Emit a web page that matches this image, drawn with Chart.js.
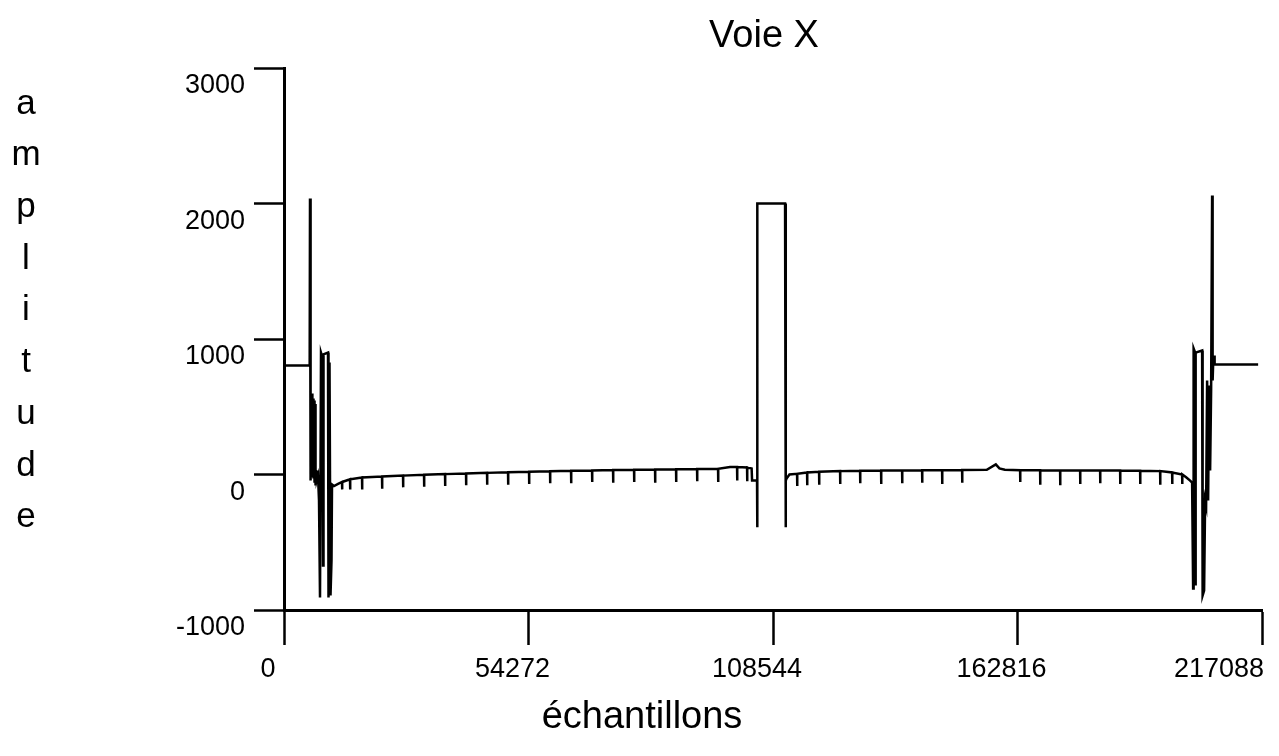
<!DOCTYPE html>
<html>
<head>
<meta charset="utf-8">
<title>Voie X</title>
<script src="https://cdn.jsdelivr.net/npm/chart.js@4"></script>
<style>
  html, body { margin: 0; padding: 0; background: #fff; }
  #voie { display: block; }
</style>
</head>
<body>
<canvas id="voie" width="1279" height="756"></canvas>
<script>
// graduations des axes
const graduationsX = [0, 54272, 108544, 162816, 217088];
const graduationsY = [-1000, 0, 1000, 2000, 3000];

// [échantillon, amplitude] — salve du début
const salveGauche = [
  [0, 805], [5700, 805], [5772, 2037], [5900, -44], [6216, 598], [6300, -20],
  [6438, 560], [6550, -30], [6660, 546], [6780, -60], [6882, 520], [7000, -81],
  [7104, 30], [7300, -40], [7548, -10], [7770, -192], [7992, -908],
  [8214, 900], [8547, 863], [8658, -672], [8769, 886], [9768, 900], [9879, -908],
  [10101, 827], [10323, -893], [10545, -635], [10656, -74]
];

// palier gauche avec ses petites impulsions vers le bas
const ligneGauche = [
  [11100, -85], [12000, -70],
  [12876, -55], [12876, -110], [12960, -55],
  [14652, -35], [14652, -110], [14740, -35],
  [17316, -22], [17316, -110], [17400, -22],
  [21756, -15], [21756, -105], [21840, -15],
  [26418, -8], [26418, -95], [26500, -8],
  [31080, -2], [31080, -90], [31160, -2],
  [35742, 3], [35742, -85], [35820, 3],
  [40404, 8], [40404, -80], [40480, 8],
  [45066, 12], [45066, -75], [45150, 12],
  [49728, 16], [49728, -75], [49810, 16],
  [54390, 20], [54390, -70], [54470, 20],
  [59052, 24], [59052, -65], [59130, 24],
  [63714, 27], [63714, -65], [63800, 27],
  [68376, 30], [68376, -55], [68460, 30],
  [73038, 33], [73038, -60], [73120, 33],
  [77700, 35], [77700, -55], [77780, 35],
  [82362, 37], [82362, -60], [82440, 37],
  [87024, 38], [87024, -55], [87100, 38],
  [91686, 40], [91686, -50], [91770, 40],
  [96348, 42], [96348, -55], [96430, 42],
  [99000, 55], [100566, 55], [100566, -45], [100650, 55],
  [102786, 52], [102786, -50], [102870, 52],
  [103800, 45], [103900, -45], [105000, -45]
];

// créneau central
const creneau = [
  [105006, -390], [105117, 2000], [111222, 2000], [111333, -390],
  [111420, -45], [111555, -30]
];

// palier droit
const ligneDroite = [
  [112200, 0],
  [113886, 5], [113886, -85], [113970, 5],
  [116106, 15], [116106, -80], [116190, 15],
  [118770, 20], [118770, -75], [118850, 20],
  [123432, 25], [123432, -70], [123510, 25],
  [127872, 28], [127872, -65], [127950, 28],
  [132534, 30], [132534, -70], [132610, 30],
  [137196, 30], [137196, -65], [137280, 30],
  [141636, 32], [141636, -60], [141720, 32],
  [146076, 32], [146076, -70], [146160, 32],
  [150516, 33], [150516, -60], [150600, 33],
  [156000, 35], [158000, 75], [158800, 45], [160000, 35],
  [163392, 32], [163392, -55], [163470, 32],
  [167832, 32], [167832, -75], [167910, 32],
  [172272, 30], [172272, -80], [172350, 30],
  [176712, 30], [176712, -70], [176790, 30],
  [181152, 30], [181152, -65], [181230, 30],
  [185592, 30], [185592, -70], [185670, 30],
  [190032, 28], [190032, -70], [190110, 28],
  [194472, 25], [194472, -75], [194550, 25],
  [197136, 15], [197136, -70], [197220, 15],
  [199356, 0], [199356, -70], [199440, 0],
  [200244, -20], [201132, -45], [201576, -60]
];

// salve de fin
const salveDroite = [
  [201798, -841], [201909, 930], [202242, 900], [202300, -820], [202420, 900],
  [203796, 915], [203907, -893], [204240, -856], [204462, -192], [204684, -229],
  [204906, 694], [205128, -192], [205350, 657], [205572, 30], [205794, 620],
  [206016, 2059], [206127, 694], [206238, 812], [206460, 878], [206571, 812],
  [216228, 812]
];

const points = [...salveGauche, ...ligneGauche, ...creneau, ...ligneDroite, ...salveDroite]
  .map(([x, y]) => ({ x, y }));

const police = '"Liberation Sans", Arial, Helvetica, sans-serif';

// titres dessinés à la main : titre, légende des x et "amplitude" lettre par lettre
const titres = {
  id: 'titres',
  beforeDraw(chart) {
    // la dernière étiquette des x est calée à droite pour rester dans le cadre
    const items = chart.scales.x.getLabelItems();
    const der = items[items.length - 1];
    if (der) {
      der.options.textAlign = 'right';
      der.options.translation[0] = 1264;
    }
  },
  afterDraw(chart) {
    const c = chart.ctx;
    c.save();
    c.fillStyle = '#000';
    c.textAlign = 'center';
    c.textBaseline = 'middle';
    c.font = '38px ' + police;
    c.fillText('Voie X', 764, 37);
    c.fillText('échantillons', 642, 718);
    c.font = '35px ' + police;
    const lettres = 'amplitude'.split('');
    lettres.forEach((l, i) => c.fillText(l, 26, 104 + i * 51.7));
    c.restore();
  }
};

const ctx = document.getElementById('voie').getContext('2d');

const chart = new Chart(ctx, {
  type: 'line',
  data: {
    datasets: [{
      data: points,
      borderColor: '#000',
      borderWidth: 2.5,
      pointRadius: 0,
      tension: 0,
      fill: false
    }]
  },
  options: {
    responsive: false,
    animation: false,
    events: [],
    layout: { padding: { top: 68, right: 17, left: 0, bottom: 0 } },
    plugins: {
      legend: { display: false },
      tooltip: { enabled: false }
    },
    scales: {
      x: {
        type: 'linear',
        min: 0,
        max: 217088,
        afterBuildTicks: s => { s.ticks = graduationsX.map(v => ({ value: v })); },
        afterFit: s => { s.height = 146; s.paddingLeft = 0; s.paddingRight = 0; },
        border: { display: true, color: '#000', width: 3 },
        grid: { drawOnChartArea: false, drawTicks: true, tickLength: 35, tickColor: '#000', tickWidth: 2.5 },
        ticks: {
          autoSkip: false,
          maxRotation: 0,
          padding: 8,
          labelOffset: -16,
          color: '#000',
          font: { family: police, size: 27 },
          callback: v => String(v)
        }
      },
      y: {
        min: -1000,
        max: 3000,
        afterBuildTicks: s => { s.ticks = graduationsY.map(v => ({ value: v })); },
        afterFit: s => { s.width = 284; s.paddingTop = 0; s.paddingBottom = 0; },
        border: { display: true, color: '#000', width: 3 },
        grid: { drawOnChartArea: false, drawTicks: true, tickLength: 30, tickColor: '#000', tickWidth: 2.5 },
        ticks: {
          padding: 9,
          labelOffset: 18,
          color: '#000',
          font: { family: police, size: 27 },
          callback: v => String(v)
        }
      }
    }
  },
  plugins: [titres]
});
</script>
</body>
</html>
